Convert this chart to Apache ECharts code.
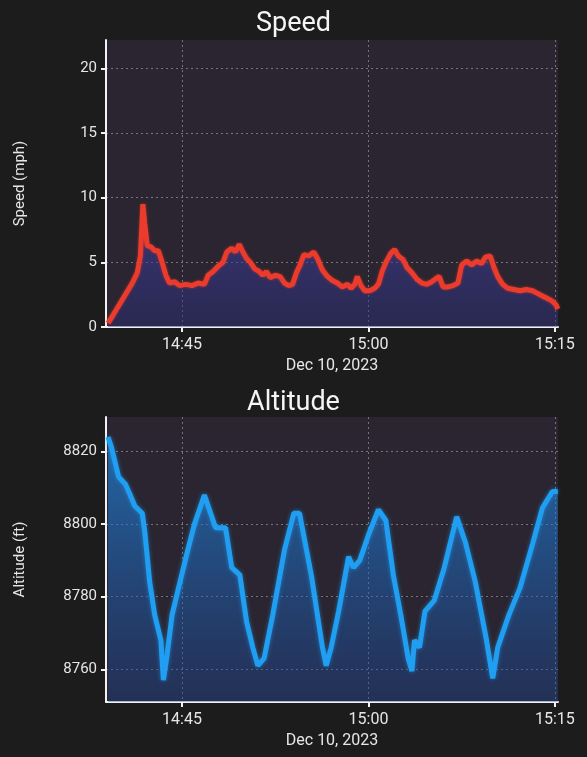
<!DOCTYPE html>
<html><head><meta charset="utf-8">
<script src="https://cdn.jsdelivr.net/npm/echarts@6/dist/echarts.min.js"></script>
<style>html,body{margin:0;padding:0;background:#1c1c1c;}#c{width:587px;height:757px;}</style>
</head><body><div id="c"></div>
<script>
const DAY = '2023-12-10';
const tickLabels = ['14:45', '15:00', '15:15'];
const xRange = ['14:38:53', '15:15:15'];

const speedTimes = ['14:39:03','14:39:30','14:40:00','14:40:30','14:41:00','14:41:24','14:41:39','14:41:51','14:42:00','14:42:12','14:42:30','14:42:48','14:43:06','14:43:24','14:43:42','14:44:00','14:44:24','14:44:48','14:45:18','14:45:48','14:46:18','14:46:48','14:47:06','14:47:30','14:47:54','14:48:18','14:48:36','14:49:00','14:49:18','14:49:36','14:49:54','14:50:12','14:50:30','14:50:51','14:51:12','14:51:30','14:51:48','14:52:06','14:52:30','14:52:54','14:53:15','14:53:36','14:53:54','14:54:12','14:54:30','14:54:48','14:55:12','14:55:36','14:55:54','14:56:18','14:56:42','14:57:06','14:57:30','14:57:54','14:58:18','14:58:36','14:58:54','14:59:06','14:59:24','14:59:42','15:00:06','15:00:30','15:00:48','15:01:06','15:01:24','15:01:48','15:02:06','15:02:24','15:02:48','15:03:06','15:03:30','15:03:54','15:04:18','15:04:42','15:05:06','15:05:30','15:05:42','15:06:00','15:06:24','15:06:48','15:07:12','15:07:30','15:07:54','15:08:18','15:08:42','15:09:06','15:09:24','15:09:48','15:10:06','15:10:24','15:10:48','15:11:12','15:11:42','15:12:12','15:12:42','15:13:12','15:13:36','15:14:00','15:14:24','15:14:48','15:15:06','15:15:14'];
const speedValues = [0.3,1.0,1.8,2.6,3.4,4.2,5.5,9.5,8.0,6.3,6.2,5.9,5.9,5.0,4.0,3.4,3.5,3.2,3.3,3.2,3.4,3.3,4.0,4.3,4.7,5.0,5.8,6.1,5.8,6.4,5.8,5.3,5.0,4.5,4.3,4.0,4.3,3.8,4.0,3.9,3.4,3.2,3.3,4.2,4.8,5.6,5.5,5.8,5.3,4.4,3.9,3.6,3.4,3.1,3.3,3.0,3.3,3.9,3.2,2.8,2.8,3.0,3.3,4.3,5.0,5.7,6.0,5.5,5.2,4.6,4.2,3.7,3.4,3.3,3.5,3.8,3.9,3.1,3.1,3.2,3.4,4.8,5.1,4.8,5.1,4.9,5.4,5.5,4.6,3.9,3.3,3.0,2.9,2.8,2.9,2.8,2.6,2.4,2.2,2.0,1.7,1.4];

const altTimes = ['14:39:03','14:39:20','14:39:54','14:40:27','14:40:50','14:41:12','14:41:48','14:42:00','14:42:24','14:42:48','14:43:18','14:43:30','14:43:48','14:44:12','14:44:50','14:45:24','14:46:00','14:46:30','14:46:48','14:47:12','14:47:42','14:48:30','14:49:00','14:49:39','14:50:12','14:50:42','14:51:06','14:51:36','14:52:18','14:53:15','14:54:00','14:54:27','14:55:24','14:56:18','14:56:36','14:57:00','14:57:36','14:58:24','14:58:48','14:59:18','15:00:00','15:00:48','15:01:24','15:02:00','15:02:36','15:03:12','15:03:30','15:03:42','15:04:06','15:04:33','15:05:18','15:06:06','15:07:06','15:07:48','15:08:36','15:09:30','15:10:00','15:10:24','15:11:18','15:12:12','15:13:12','15:14:00','15:14:48','15:15:14'];
const altValues = [8824,8821,8813,8811,8808,8805,8803,8798,8784,8775,8768,8757,8764,8775,8784,8792,8800,8805,8808,8804,8799,8799,8788,8786,8773,8766,8761,8763,8775,8793,8803,8803,8786,8766,8761,8766,8776,8791,8788,8790,8797,8804,8801,8786,8775,8763,8759.5,8768,8766,8776,8779,8788,8802,8795,8784,8768,8757.5,8766,8775,8782.5,8794.5,8804.5,8809,8809];

const speedTicks = [0, 5, 10, 15, 20];
const altTicks = [8760, 8780, 8800, 8820];

function ts(hms) { return new Date(DAY + 'T' + hms).getTime(); }
function pad(n) { return (n < 10 ? '0' : '') + n; }
function fmt(v) { const d = new Date(v); return pad(d.getHours()) + ':' + pad(d.getMinutes()); }

const xTickVals = tickLabels.map(t => ts(t + ':00'));
const FONT = 'Roboto';
const txt = '#e6e6e6';

function xAxis(gi) {
  return {
    type: 'value', gridIndex: gi, min: ts(xRange[0]), max: ts(xRange[1]),
    name: 'Dec 10, 2023', nameLocation: 'middle', nameGap: 31,
    nameTextStyle: { color: txt, fontSize: 16, fontFamily: FONT },
    axisLine: { lineStyle: { color: '#f2f2f2', width: 2 } },
    axisTick: { show: true, length: 5, customValues: xTickVals, lineStyle: { color: '#f2f2f2', width: 2 } },
    axisLabel: { customValues: xTickVals, formatter: fmt, color: txt, fontSize: 16, fontFamily: FONT, margin: 10 },
    splitLine: { show: true, lineStyle: { color: 'rgba(210,210,210,0.45)', type: [2, 3], width: 1 } }
  };
}
function yAxis(gi, name, min, max, ticks) {
  return {
    type: 'value', gridIndex: gi, min: min, max: max,
    name: name, nameLocation: 'middle', nameGap: 78,
    nameTextStyle: { color: txt, fontSize: 15, fontFamily: FONT },
    axisLine: { show: true, lineStyle: { color: '#f2f2f2', width: 2 } },
    axisTick: { show: true, length: 5, customValues: ticks, lineStyle: { color: '#f2f2f2', width: 2 } },
    axisLabel: { customValues: ticks, formatter: v => String(v), color: txt, fontSize: 15, fontFamily: FONT, margin: 9 },
    splitLine: { show: true, lineStyle: { color: 'rgba(210,210,210,0.45)', type: [2, 3], width: 1 } }
  };
}

const chart = echarts.init(document.getElementById('c'), null, { renderer: 'canvas' });
chart.setOption({
  backgroundColor: '#1c1c1c',
  animation: false,
  title: [
    { text: 'Speed', left: 'center', top: 6, textStyle: { color: '#f5f5f5', fontSize: 27, fontWeight: 'normal', fontFamily: FONT } },
    { text: 'Altitude', left: 'center', top: 385, textStyle: { color: '#f5f5f5', fontSize: 27, fontWeight: 'normal', fontFamily: FONT } }
  ],
  grid: [
    { left: 106, right: 29, top: 40, height: 287, show: true, backgroundColor: '#2a2530', borderWidth: 0 },
    { left: 106, right: 29, top: 417, height: 285, show: true, backgroundColor: '#2a2530', borderWidth: 0 }
  ],
  xAxis: [xAxis(0), xAxis(1)],
  yAxis: [
    yAxis(0, 'Speed (mph)', 0, 22.2, speedTicks),
    yAxis(1, 'Altitude (ft)', 8751, 8829.5, altTicks)
  ],
  series: [
    {
      type: 'line', xAxisIndex: 0, yAxisIndex: 0, showSymbol: false,
      data: speedTimes.map((t, i) => [ts(t), speedValues[i]]),
      lineStyle: { color: '#ea3b2c', width: 5, shadowBlur: 3, shadowColor: 'rgba(234,59,44,0.6)' },
      areaStyle: { color: new echarts.graphic.LinearGradient(0, 0, 0, 1, [
        { offset: 0, color: 'rgba(72,70,180,0.8)' },
        { offset: 1, color: 'rgba(40,45,120,0.65)' }
      ]) }
    },
    {
      type: 'line', xAxisIndex: 1, yAxisIndex: 1, showSymbol: false,
      data: altTimes.map((t, i) => [ts(t), altValues[i]]),
      lineStyle: { color: '#1f9ef2', width: 5, shadowBlur: 4, shadowColor: 'rgba(31,156,240,0.6)' },
      areaStyle: { color: new echarts.graphic.LinearGradient(0, 0, 0, 1, [
        { offset: 0, color: 'rgba(32,145,240,0.9)' },
        { offset: 1, color: 'rgba(25,70,155,0.5)' }
      ]) }
    }
  ]
});
</script></body></html>
